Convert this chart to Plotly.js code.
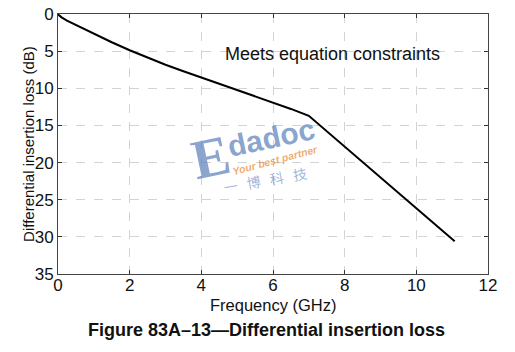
<!DOCTYPE html>
<html>
<head>
<meta charset="utf-8">
<script src="https://cdn.plot.ly/plotly-3.0.1.min.js"></script>
<style>html,body{margin:0;padding:0;background:#fff;}#chart{width:515px;height:352px;}</style>
</head>
<body>
<div id="chart"></div>
<script>
var freqGHz = [0, 0.1, 0.25, 0.5, 0.75, 1, 1.5, 2, 2.5, 3, 3.5, 4, 4.5, 5, 5.5, 6, 6.5, 7, 11.07];
var lossDB  = [0.05, 0.45, 0.9, 1.5, 2.1, 2.65, 3.8, 4.88, 5.9, 6.83, 7.7, 8.55, 9.37, 10.2, 11.03, 11.88, 12.78, 13.7, 30.6];
var xTicks = [0, 2, 4, 6, 8, 10, 12];
var yTicks = [0, 5, 10, 15, 20, 25, 30, 35];
var noteText = "Meets equation constraints";
var xTitle = "Frequency (GHz)";
var yTitle = "Differential insertion loss (dB)";
var figTitle = "Figure 83A–13—Differential insertion loss";

var font = "Liberation Sans, Arial, sans-serif";

var trace = {
  x: freqGHz, y: lossDB, type: "scatter", mode: "lines",
  line: {color: "#000", width: 2},
  hoverinfo: "skip"
};

var layout = {
  width: 515, height: 352,
  margin: {l: 58, r: 27, t: 14, b: 78},
  paper_bgcolor: "#fff", plot_bgcolor: "#fff",
  showlegend: false,
  font: {family: font, color: "#111", size: 16},
  xaxis: {
    range: [0, 12], tickvals: xTicks, ticktext: xTicks.map(String),
    ticks: "inside", ticklen: 4, tickcolor: "#333", ticklabelstandoff: -4,
    showline: true, mirror: "ticks", linecolor: "#444", linewidth: 1,
    showgrid: true, gridcolor: "#d3d3d3", griddash: "dash", zeroline: false,
    tickfont: {family: font, size: 17, color: "#111"}
  },
  yaxis: {
    range: [35, 0], tickvals: yTicks, ticktext: yTicks.map(String),
    ticks: "inside", ticklen: 4, tickcolor: "#333",
    showline: true, mirror: "ticks", linecolor: "#444", linewidth: 1,
    showgrid: true, gridcolor: "#d3d3d3", griddash: "dash", zeroline: false,
    tickfont: {family: font, size: 17, color: "#111"}
  },
  annotations: [
    {x: 0.5, y: -0.118, xref: "paper", yref: "paper", xanchor: "center", yanchor: "middle",
     text: xTitle, showarrow: false, font: {family: font, size: 16.5, color: "#111"}},
    {x: -0.07, y: 0.5, xref: "paper", yref: "paper", xanchor: "center", yanchor: "middle", textangle: -90,
     text: yTitle, showarrow: false, font: {family: font, size: 15, color: "#111"}},
    {x: 4.6, y: 5.4, xref: "x", yref: "y", xanchor: "left", yanchor: "middle",
     text: noteText, showarrow: false, font: {family: font, size: 18, color: "#111"}},
    {x: 4.25, y: 19.2, xref: "x", yref: "y", text: "<b>E</b>", showarrow: false, textangle: -12,
     font: {family: "Liberation Serif, Times New Roman, serif", size: 56, color: "rgba(100,135,190,0.75)"}},
    {x: 5.95, y: 16.6, xref: "x", yref: "y", text: "<b>dadoc</b>", showarrow: false, textangle: -12,
     font: {family: font, size: 30, color: "rgba(100,135,190,0.75)"}},
    {x: 6.05, y: 19.6, xref: "x", yref: "y", text: "<b><i>Your best partner</i></b>", showarrow: false, textangle: -15,
     font: {family: font, size: 10.5, color: "rgba(235,150,80,0.8)"}},
    {x: 5.77, y: 22.3, xref: "x", yref: "y", text: "一   博   科   技", showarrow: false, textangle: -10,
     font: {family: "Noto Sans CJK SC, sans-serif", size: 14, color: "rgba(120,150,200,0.7)"}},
    {x: 0.485, y: -0.215, xref: "paper", yref: "paper", xanchor: "center", yanchor: "middle",
     text: "<b>" + figTitle + "</b>", showarrow: false, font: {family: font, size: 18, color: "#111"}}
  ]
};

Plotly.newPlot("chart", [trace], layout, {staticPlot: true, displayModeBar: false});
</script>
</body>
</html>
